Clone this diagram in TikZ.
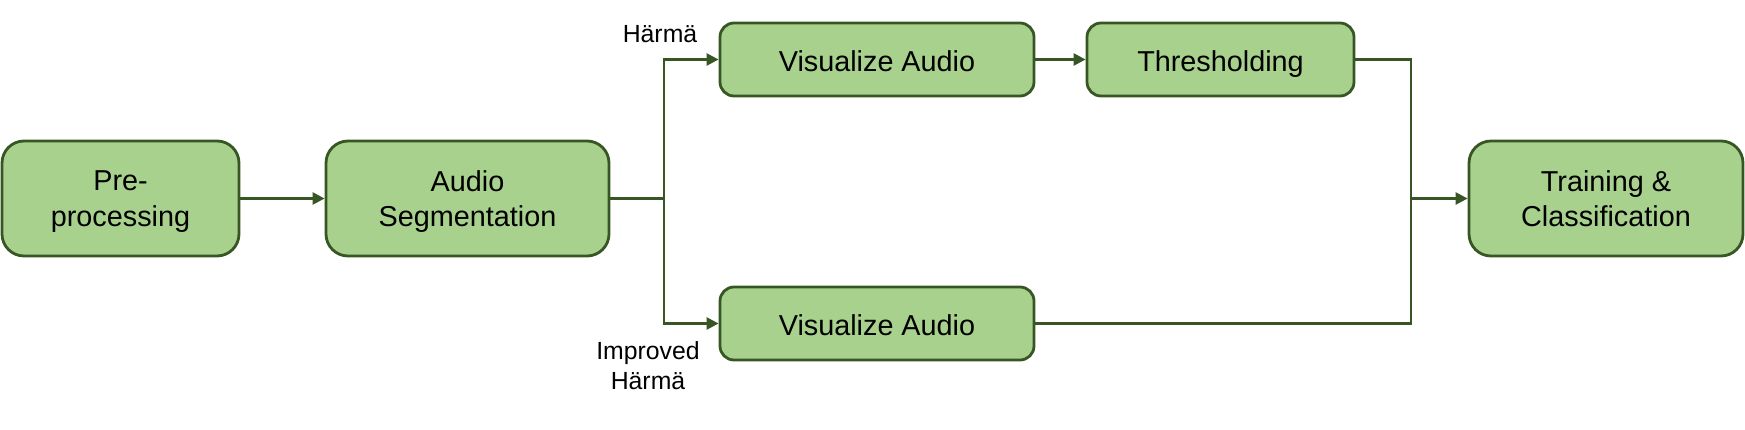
\documentclass[tikz,border=0pt]{standalone}
\usepackage{fontspec}
\setmainfont{Liberation Sans}
\usetikzlibrary{arrows.meta}
\definecolor{boxfill}{HTML}{A9D18E}
\definecolor{boxline}{HTML}{375623}
\tikzset{
  bigbox/.style={draw=boxline, fill=boxfill, line width=1.4pt, rounded corners=11pt,
    minimum width=#1, minimum height=57.5pt, align=center, font=\fontsize{14.4}{17.8}\selectfont,
    inner sep=0pt, text depth=0pt},
  smallbox/.style={draw=boxline, fill=boxfill, line width=1.4pt, rounded corners=7pt,
    minimum width=#1, minimum height=36.5pt, align=center, font=\fontsize{14.4}{17.8}\selectfont,
    inner sep=0pt, text height=12pt, text depth=0pt},
  conn/.style={draw=boxline, line width=1.2pt},
  arr/.style={conn, -{Triangle[length=6pt,width=6pt]}},
  lbl/.style={align=center, font=\fontsize{12.4}{15}\selectfont, inner sep=0pt}
}
\begin{document}
\begin{tikzpicture}[x=0.5pt,y=-0.5pt]
\useasboundingbox (0,0) rectangle (1745,429);
\node[bigbox=118.5pt] (pre) at (120.5,198.5) {Pre-\\processing};
\node[bigbox=141.5pt] (seg) at (467.5,198.5) {Audio\\Segmentation};
\node[smallbox=157pt] (va1) at (877,59.5) {Visualize Audio};
\node[smallbox=133.5pt] (thr) at (1220.5,59.5) {Thresholding};
\node[smallbox=157pt] (va2) at (877,323.5) {Visualize Audio};
\node[bigbox=137pt] (train) at (1606,198.5) {Training \&\\Classification};
\coordinate (split) at (664,198.5);
\coordinate (merge) at (1411,198.5);
\draw[arr] (pre) -- (seg);
\draw[conn] (seg.east) -- (split);
\draw[arr] (split) |- (va1.west);
\draw[arr] (split) |- (va2.west);
\draw[arr] (va1) -- (thr);
\draw[conn] (thr.east) -| (merge);
\draw[conn] (va2.east) -| (merge);
\draw[arr] (merge) -- (train.west);
\node[lbl] (l1) at (660,34.5) {Härmä};
\node[lbl] (l2) at (648,365.5) {Improved\\Härmä};
\end{tikzpicture}
\end{document}
